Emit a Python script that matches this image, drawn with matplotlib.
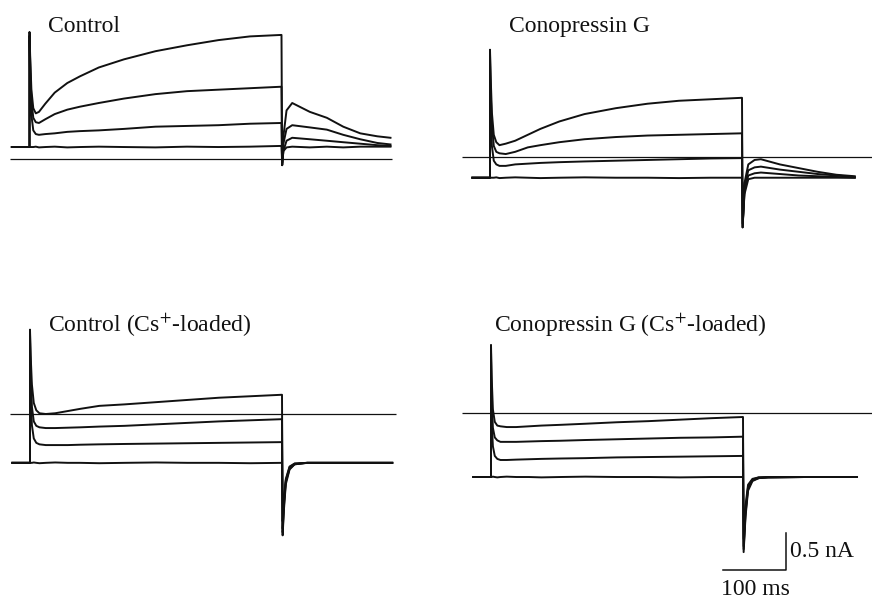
import matplotlib
matplotlib.use("Agg")
import matplotlib.pyplot as plt

plt.rcParams["font.family"] = ["Liberation Serif", "DejaVu Serif"]
plt.rcParams["mathtext.fontset"] = "stix"

# ---- sampled whole-cell currents (time in ms, current in nA) ----
t_pre = [-28, 0]
t_step = [0, 1, 3, 6, 10, 15, 25, 40, 60, 80, 110, 150, 200, 250, 300, 350, 400]

# Control
ctl_hold = 0.155
ctl_step = [
    [1.71, 1.40, 0.93, 0.68, 0.61, 0.63, 0.74, 0.89, 1.02, 1.11, 1.23, 1.34, 1.45, 1.53, 1.60, 1.65, 1.67],
    [1.66, 1.33, 0.79, 0.55, 0.49, 0.48, 0.53, 0.60, 0.66, 0.70, 0.75, 0.81, 0.87, 0.91, 0.93, 0.95, 0.97],
    [1.60, 1.06, 0.59, 0.38, 0.33, 0.32, 0.33, 0.34, 0.36, 0.37, 0.38, 0.40, 0.43, 0.44, 0.45, 0.47, 0.48],
    [0.155, 0.155, 0.155, 0.155, 0.16, 0.15, 0.155, 0.16, 0.15, 0.155, 0.16, 0.155, 0.15, 0.16, 0.155, 0.16, 0.17],
]
ctl_t_tail = [401, 403, 408, 417, 445, 472, 498, 525, 552, 573]
ctl_tail = [
    [-0.09, 0.30, 0.65, 0.75, 0.63, 0.55, 0.43, 0.34, 0.30, 0.28],
    [-0.09, 0.20, 0.40, 0.45, 0.42, 0.39, 0.32, 0.26, 0.21, 0.19],
    [-0.09, 0.10, 0.24, 0.28, 0.26, 0.24, 0.22, 0.20, 0.18, 0.17],
    [-0.06, 0.10, 0.15, 0.16, 0.15, 0.16, 0.15, 0.16, 0.16, 0.16],
]

# Conopressin G
cng_hold = -0.28
cng_step = [
    [1.45, 1.10, 0.60, 0.30, 0.20, 0.16, 0.18, 0.22, 0.30, 0.38, 0.48, 0.58, 0.66, 0.72, 0.76, 0.78, 0.80],
    [1.40, 0.90, 0.45, 0.15, 0.07, 0.05, 0.04, 0.07, 0.13, 0.16, 0.20, 0.24, 0.27, 0.29, 0.30, 0.31, 0.32],
    [1.30, 0.60, 0.15, -0.05, -0.10, -0.12, -0.12, -0.10, -0.09, -0.08, -0.07, -0.06, -0.05, -0.04, -0.03, -0.02, -0.015],
    [-0.28, -0.28, -0.28, -0.28, -0.275, -0.285, -0.28, -0.275, -0.28, -0.285, -0.28, -0.275, -0.28, -0.28, -0.285, -0.28, -0.28],
]
cng_t_tail = [401, 404, 410, 420, 430, 460, 490, 520, 550, 579]
cng_tail = [
    [-0.95, -0.35, -0.10, -0.04, -0.03, -0.10, -0.15, -0.20, -0.24, -0.26],
    [-0.95, -0.40, -0.18, -0.14, -0.13, -0.17, -0.20, -0.23, -0.25, -0.27],
    [-0.95, -0.45, -0.25, -0.22, -0.21, -0.23, -0.25, -0.26, -0.27, -0.28],
    [-0.90, -0.50, -0.30, -0.28, -0.28, -0.28, -0.28, -0.28, -0.28, -0.28],
]

# Control, Cs+-loaded
ccs_hold = -0.66
ccs_step = [
    [1.14, 0.80, 0.40, 0.15, 0.05, 0.01, 0.00, 0.01, 0.04, 0.07, 0.11, 0.13, 0.16, 0.19, 0.22, 0.24, 0.26],
    [1.10, 0.60, 0.10, -0.10, -0.16, -0.18, -0.19, -0.19, -0.185, -0.18, -0.17, -0.16, -0.14, -0.12, -0.10, -0.085, -0.07],
    [1.00, 0.30, -0.15, -0.33, -0.39, -0.41, -0.42, -0.42, -0.42, -0.415, -0.41, -0.405, -0.40, -0.395, -0.39, -0.385, -0.38],
    [-0.66, -0.66, -0.66, -0.655, -0.66, -0.665, -0.66, -0.655, -0.66, -0.66, -0.665, -0.66, -0.655, -0.66, -0.66, -0.665, -0.66],
]
ccs_t_tail = [401, 403, 406, 412, 420, 440, 480, 520, 575]
ccs_tail = [
    [-1.64, -1.30, -0.95, -0.75, -0.68, -0.66, -0.66, -0.66, -0.66],
    [-1.60, -1.25, -0.92, -0.74, -0.68, -0.66, -0.66, -0.66, -0.66],
    [-1.55, -1.20, -0.90, -0.72, -0.67, -0.66, -0.66, -0.66, -0.66],
    [-1.45, -1.15, -0.88, -0.71, -0.67, -0.66, -0.66, -0.66, -0.66],
]

# Conopressin G, Cs+-loaded
gcs_hold = -0.865
gcs_step = [
    [0.92, 0.50, 0.05, -0.12, -0.17, -0.18, -0.19, -0.19, -0.18, -0.17, -0.16, -0.145, -0.125, -0.11, -0.09, -0.07, -0.054],
    [0.85, 0.20, -0.20, -0.33, -0.37, -0.39, -0.39, -0.39, -0.385, -0.38, -0.375, -0.365, -0.355, -0.345, -0.335, -0.33, -0.32],
    [0.75, -0.10, -0.45, -0.58, -0.62, -0.635, -0.635, -0.63, -0.625, -0.62, -0.615, -0.61, -0.60, -0.595, -0.59, -0.585, -0.58],
    [-0.865, -0.865, -0.86, -0.865, -0.87, -0.865, -0.86, -0.865, -0.865, -0.87, -0.865, -0.86, -0.865, -0.865, -0.87, -0.865, -0.865],
]
gcs_t_tail = [401, 404, 408, 415, 425, 440, 500, 581]
gcs_tail = [
    [-1.88, -1.40, -1.05, -0.92, -0.88, -0.87, -0.865, -0.865],
    [-1.84, -1.36, -1.02, -0.91, -0.88, -0.87, -0.865, -0.865],
    [-1.80, -1.32, -1.00, -0.90, -0.87, -0.87, -0.865, -0.865],
    [-1.70, -1.25, -0.97, -0.89, -0.87, -0.865, -0.865, -0.865],
]

titles = ["Control", "Conopressin G",
          r"Control (Cs$^{+}$-loaded)", r"Conopressin G (Cs$^{+}$-loaded)"]
zero_spans = [(-31, 575), (-44, 606), (-31, 581), (-46, 606)]
scale_time_ms = 100
scale_current_nA = 0.5

# ---- layout (figure pixels) ----
W, H = 872, 599
PX_PER_MS = 0.63
PX_PER_NA = 74.0
# step onset (x) and zero-current level (y) of each panel, in pixels from top-left
anchors = [(29.5, 158.5), (490, 157), (30, 414), (491, 413)]
title_pos = [(48, 32), (509, 32), (48, 332), (494, 332)]
FS = 17

panels = [
    (ctl_hold, ctl_step, ctl_t_tail, ctl_tail),
    (cng_hold, cng_step, cng_t_tail, cng_tail),
    (ccs_hold, ccs_step, ccs_t_tail, ccs_tail),
    (gcs_hold, gcs_step, gcs_t_tail, gcs_tail),
]

fig = plt.figure(figsize=(W / 100, H / 100), dpi=100)
fig.patch.set_facecolor("white")

ink = "#111111"
axes = []
for (x0, y0), (hold, steps, t_tail, tails), (z0, z1) in zip(anchors, panels, zero_spans):
    ax = fig.add_axes([0, 0, 1, 1])
    ax.set_xlim(-x0 / PX_PER_MS, (W - x0) / PX_PER_MS)
    ax.set_ylim((y0 - H) / PX_PER_NA, y0 / PX_PER_NA)
    ax.set_axis_off()
    ax.patch.set_alpha(0)
    # zero-current reference line
    ax.plot([z0, z1], [0, 0], color=ink, lw=0.9, solid_capstyle="butt")
    for s, tl in zip(steps, tails):
        t = t_pre + t_step + t_tail
        i = [hold, hold] + s + tl
        ax.plot(t, i, color=ink, lw=1.4, solid_joinstyle="round")
    axes.append(ax)

for (tx, ty), title in zip(title_pos, titles):
    fig.text(tx / W, 1 - ty / H, title, fontsize=FS, ha="left", va="baseline", color=ink)

# scale bars on the last panel
axb = axes[3]
bar_t = (786 - anchors[3][0]) / PX_PER_MS
bar_i = (anchors[3][1] - 570) / PX_PER_NA
axb.plot([bar_t - scale_time_ms, bar_t, bar_t],
         [bar_i, bar_i, bar_i + scale_current_nA], color=ink, lw=1.1)
axb.text(bar_t + 6.5, bar_i + scale_current_nA / 2 - 0.005, f"{scale_current_nA} nA",
         fontsize=FS, ha="left", va="center", color=ink)
axb.text(bar_t - scale_time_ms / 2 + 2, bar_i - 0.27, f"{scale_time_ms} ms",
         fontsize=FS, ha="center", va="center", color=ink)

fig.savefig("out.png", dpi=100, facecolor="white")
